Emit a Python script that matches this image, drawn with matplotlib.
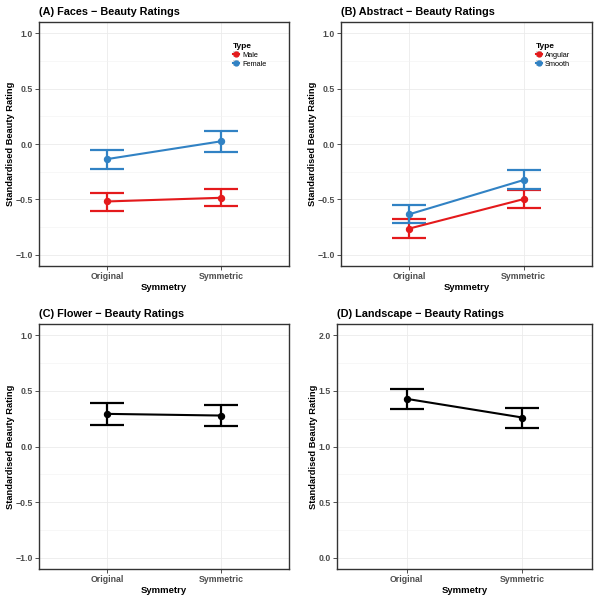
import matplotlib.pyplot as plt
from matplotlib.lines import Line2D
from matplotlib.patches import Patch
from matplotlib.legend_handler import HandlerTuple
import numpy as np

plt.rcParams['font.family'] = ['Liberation Sans', 'DejaVu Sans']

symmetry = ["Original", "Symmetric"]

# (A) Faces
faces_types = ["Male", "Female"]
faces_mean = [[-0.518, -0.485], [-0.136, 0.024]]
faces_low = [[-0.600, -0.560], [-0.223, -0.072]]
faces_high = [[-0.440, -0.407], [-0.051, 0.117]]

# (B) Abstract
abstract_types = ["Angular", "Smooth"]
abstract_mean = [[-0.762, -0.497], [-0.633, -0.325]]
abstract_low = [[-0.846, -0.575], [-0.714, -0.410]]
abstract_high = [[-0.678, -0.419], [-0.554, -0.235]]

# (C) Flower
flower_mean = [0.293, 0.278]
flower_low = [0.189, 0.180]
flower_high = [0.395, 0.377]

# (D) Landscape
land_mean = [1.428, 1.260]
land_low = [1.341, 1.170]
land_high = [1.515, 1.350]

colors = ["#E41A1C", "#3182C4"]
W, H = 598, 600


def make_ax(fig, left, top, right, bottom):
    return fig.add_axes([left / W, 1 - bottom / H, (right - left) / W, (bottom - top) / H])


def style_ax(ax, title, ylim, yticks, minor):
    ax.set_xlim(0.4, 2.6)
    ax.set_ylim(*ylim)
    ax.set_xticks([1, 2])
    ax.set_xticklabels(symmetry)
    ax.set_yticks(yticks)
    ax.set_yticklabels([f"{t:.1f}".replace("-", "\u2212") for t in yticks])
    ax.set_yticks(minor, minor=True)
    ax.tick_params(which="minor", length=0)
    ax.tick_params(which="major", length=3, width=0.6, color="#333333",
                   labelsize=6.3, labelcolor="#4D4D4D", pad=1.2)
    for lab in ax.get_xticklabels() + ax.get_yticklabels():
        lab.set_fontweight("bold")
    ax.grid(True, which="major", color="#EBEBEB", lw=0.6)
    ax.grid(True, which="minor", axis="y", color="#F2F2F2", lw=0.4)
    ax.set_axisbelow(True)
    for s in ax.spines.values():
        s.set_color("#333333")
        s.set_linewidth(1.0)
    ax.set_title(title, loc="left", fontsize=7.8, fontweight="bold", pad=5)
    ax.set_xlabel("Symmetry", fontsize=6.8, fontweight="bold", labelpad=1.5)
    ax.set_ylabel("Standardised Beauty Rating", fontsize=6.7, fontweight="bold", labelpad=0.5)


def draw_series(ax, mean, low, high, color, label=None):
    x = np.array([1, 2])
    mean = np.array(mean)
    err = [mean - np.array(low), np.array(high) - mean]
    ax.errorbar(x, mean, yerr=err, fmt="none", ecolor=color, elinewidth=1.6,
                capsize=12.5, capthick=1.6, zorder=3)
    ax.plot(x, mean, color=color, lw=1.5, marker="o", markersize=4.3, zorder=4, label=label)


def add_legend(ax, labels):
    handles = []
    for i in range(len(labels)):
        bg = Patch(facecolor="#D9D9D9", edgecolor="none")
        ln = Line2D([], [], color=colors[i], lw=1.5, marker="o", markersize=3.5)
        handles.append((bg, ln))
    leg = ax.legend(handles, labels, title="Type", loc="upper left",
                    bbox_to_anchor=(0.775, 0.915), frameon=False, fontsize=5.3,
                    handlelength=0.9, handleheight=1.0, handletextpad=0.4,
                    labelspacing=0.15, borderaxespad=0, borderpad=0,
                    handler_map={tuple: HandlerTuple(ndivide=1)})
    leg.get_title().set_fontweight("bold")
    leg.get_title().set_fontsize(6)
    leg._legend_box.align = "left"


fig = plt.figure(figsize=(W / 100, H / 100), dpi=100)

ax = make_ax(fig, 39, 22, 289, 266)
style_ax(ax, "(A) Faces \u2212 Beauty Ratings", (-1.1, 1.1), [-1, -0.5, 0, 0.5, 1.0],
         [-0.75, -0.25, 0.25, 0.75])
for i, t in enumerate(faces_types):
    draw_series(ax, faces_mean[i], faces_low[i], faces_high[i], colors[i], t)
add_legend(ax, faces_types)

ax = make_ax(fig, 341, 22, 592, 266)
style_ax(ax, "(B) Abstract \u2212 Beauty Ratings", (-1.1, 1.1), [-1, -0.5, 0, 0.5, 1.0],
         [-0.75, -0.25, 0.25, 0.75])
for i, t in enumerate(abstract_types):
    draw_series(ax, abstract_mean[i], abstract_low[i], abstract_high[i], colors[i], t)
add_legend(ax, abstract_types)

ax = make_ax(fig, 39, 324, 289, 569)
style_ax(ax, "(C) Flower \u2212 Beauty Ratings", (-1.1, 1.1), [-1, -0.5, 0, 0.5, 1.0],
         [-0.75, -0.25, 0.25, 0.75])
draw_series(ax, flower_mean, flower_low, flower_high, "black")

ax = make_ax(fig, 337, 324, 592, 569)
style_ax(ax, "(D) Landscape \u2212 Beauty Ratings", (-0.1, 2.1), [0, 0.5, 1.0, 1.5, 2.0],
         [0.25, 0.75, 1.25, 1.75])
draw_series(ax, land_mean, land_low, land_high, "black")

fig.savefig("out.png", dpi=100, facecolor="white")
